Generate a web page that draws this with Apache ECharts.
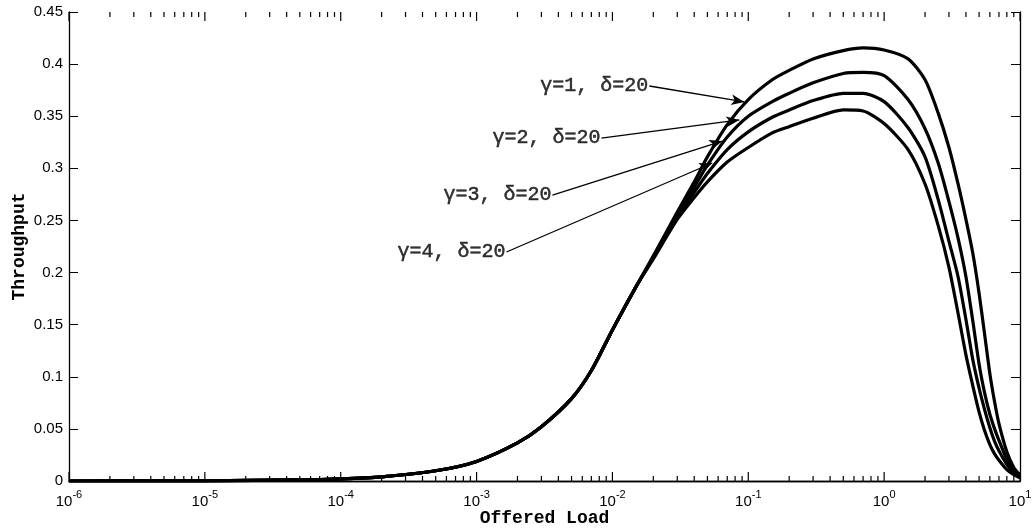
<!DOCTYPE html>
<html lang="en">
<head>
    <meta charset="utf-8">
    <title>Throughput vs Offered Load</title>
    <script src="https://cdn.jsdelivr.net/npm/echarts@6/dist/echarts.min.js"></script>
    <style>
        html, body { margin: 0; padding: 0; background: #fff; }
        #chart { width: 1032px; height: 531px; }
    </style>
</head>
<body>
    <div id="chart"></div>
    <script>
        // offered load (x) and throughput
        var load = [1e-6, 1e-5, 5e-5, 1e-4, 2e-4, 5e-4, 1e-3, 2e-3, 3e-3, 5e-3, 7e-3, 1e-2, 1.5e-2,
            2e-2, 3e-2, 0.04, 0.05, 0.07, 0.1, 0.15, 0.2, 0.3, 0.5, 0.7, 1, 1.5, 2, 2.5, 3, 3.5, 4, 4.5, 5,
            5.5, 6, 6.5, 7, 8, 9, 10];
        // low-load part is shared by all four curves
        var common = [0.00002, 0.0002, 0.001, 0.002, 0.004, 0.0098, 0.0188, 0.0365, 0.052, 0.079, 0.106,
            0.145, 0.187];
        var gamma1 = [0.216, 0.258, 0.287, 0.311, 0.342, 0.366, 0.385, 0.394, 0.405, 0.413, 0.4155, 0.4135,
            0.405, 0.385, 0.353, 0.320, 0.285, 0.251, 0.218, 0.180, 0.140, 0.103, 0.076, 0.055, 0.028, 0.013, 0.006];
        var gamma2 = [0.215, 0.256, 0.282, 0.303, 0.330, 0.350, 0.364, 0.372, 0.382, 0.391, 0.392, 0.389,
            0.366, 0.338, 0.305, 0.268, 0.233, 0.196, 0.153, 0.112, 0.084, 0.064, 0.050, 0.039, 0.021, 0.010, 0.005];
        var gamma3 = [0.214, 0.253, 0.277, 0.295, 0.318, 0.335, 0.349, 0.356, 0.365, 0.372, 0.372, 0.364,
            0.339, 0.311, 0.270, 0.230, 0.196, 0.155, 0.116, 0.089, 0.068, 0.051, 0.038, 0.029, 0.016, 0.008, 0.004];
        var gamma4 = [0.213, 0.251, 0.272, 0.287, 0.306, 0.320, 0.334, 0.340, 0.348, 0.356, 0.355, 0.343,
            0.318, 0.285, 0.245, 0.205, 0.161, 0.121, 0.091, 0.066, 0.048, 0.035, 0.026, 0.020, 0.011, 0.006, 0.003];
        var curves = [gamma1, gamma2, gamma3, gamma4];

        var labels = ['\u03b3=1, \u03b4=20', '\u03b3=2, \u03b4=20', '\u03b3=3, \u03b4=20', '\u03b3=4, \u03b4=20'];
        var labelAt = [[0.0187, 0.379], [0.0083, 0.329], [0.00362, 0.2744], [0.00166, 0.2197]];
        var arrowTip = [[0.0935, 0.3637], [0.0859, 0.3464], [0.0644, 0.3262], [0.0543, 0.3051]];

        var yTicks = [0, 0.05, 0.1, 0.15, 0.2, 0.25, 0.3, 0.35, 0.4, 0.45];

        // minor ticks 2..9 x 10^k like matlab draws them
        var minor = [];
        for (var e = -6; e < 1; e++) {
            for (var k = 2; k < 10; k++) minor.push([k * Math.pow(10, e), 0]);
        }
        var major = [];
        for (var d = -6; d <= 1; d++) major.push([Math.pow(10, d), 0]);

        var tickFont = 'Liberation Sans';
        var monoFont = 'Liberation Mono';

        var series = curves.map(function (tail, n) {
            var vals = common.concat(tail);
            return {
                name: labels[n],
                type: 'line',
                data: load.map(function (x, i) { return [x, vals[i]]; }),
                smooth: 0.25,
                showSymbol: false,
                lineStyle: { color: '#000', width: 3.2, join: 'round' },
                z: 3
            };
        });

        series.push({
            type: 'scatter',
            symbolSize: 0,
            data: labelAt.map(function (p, i) { return { value: p, name: labels[i] }; }),
            label: {
                show: true,
                position: 'left',
                distance: 1,
                formatter: function (p) { return p.name; },
                fontFamily: monoFont,
                fontSize: 20,
                color: '#000',
                textBorderColor: '#000',
                textBorderWidth: 0.5
            },
            markLine: {
                silent: true,
                symbol: ['none', 'arrow'],
                symbolSize: [8, 13],
                label: { show: false },
                lineStyle: { color: '#000', width: 1.3, type: 'solid' },
                data: labelAt.map(function (p, i) {
                    return [{ coord: p }, { coord: arrowTip[i] }];
                })
            },
            z: 4
        });

        // inward ticks on bottom and top edges
        function tickSeries(list, len) {
            return {
                type: 'custom',
                data: list,
                clip: false,
                silent: true,
                renderItem: function (params, api) {
                    var b = api.coord([api.value(0), 0]);
                    var t = api.coord([api.value(0), 0.45]);
                    return {
                        type: 'group',
                        children: [
                            { type: 'line', shape: { x1: b[0], y1: b[1], x2: b[0], y2: b[1] - len }, style: { stroke: '#000', lineWidth: 1.2 } },
                            { type: 'line', shape: { x1: t[0], y1: t[1], x2: t[0], y2: t[1] + len }, style: { stroke: '#000', lineWidth: 1.2 } }
                        ]
                    };
                },
                z: 5
            };
        }
        series.push(tickSeries(minor, 5));
        series.push(tickSeries(major, 9));

        var option = {
            animation: false,
            backgroundColor: '#fff',
            grid: { left: 69, right: 12, top: 12, bottom: 50, outerBoundsMode: 'none' },
            xAxis: [{
                type: 'log',
                logBase: 10,
                min: 1e-6,
                max: 10,
                splitNumber: 7,
                name: 'Offered Load',
                nameLocation: 'middle',
                nameGap: 28,
                nameMoveOverlap: false,
                nameTextStyle: { fontFamily: monoFont, fontWeight: 'bold', fontSize: 18, color: '#000' },
                axisLine: { lineStyle: { color: '#000', width: 1.3 } },
                axisTick: { show: false },
                splitLine: { show: false },
                axisLabel: {
                    margin: 8,
                    color: '#000',
                    formatter: function (v) {
                        return '{b|10}{s|' + Math.round(Math.log10(v)) + '}';
                    },
                    rich: {
                        b: { fontFamily: tickFont, fontSize: 15, color: '#000', verticalAlign: 'bottom', lineHeight: 20 },
                        s: { fontFamily: tickFont, fontSize: 11, color: '#000', verticalAlign: 'top', lineHeight: 20 }
                    }
                }
            }, {
                type: 'log',
                logBase: 10,
                min: 1e-6,
                max: 10,
                splitNumber: 7,
                position: 'top',
                axisLine: { lineStyle: { color: '#000', width: 1.3 } },
                axisTick: { show: false },
                axisLabel: { show: false },
                splitLine: { show: false }
            }],
            yAxis: [{
                type: 'value',
                min: 0,
                max: 0.45,
                interval: 0.05,
                name: 'Throughput',
                nameLocation: 'middle',
                nameGap: 41,
                nameMoveOverlap: false,
                nameTextStyle: { fontFamily: monoFont, fontWeight: 'bold', fontSize: 18, color: '#000' },
                axisLine: { show: true, lineStyle: { color: '#000', width: 1.3 } },
                axisTick: { show: true, inside: true, length: 9, lineStyle: { color: '#000' } },
                splitLine: { show: false },
                axisLabel: {
                    margin: 6,
                    fontFamily: tickFont,
                    fontSize: 15,
                    color: '#000',
                    formatter: function (v) {
                        var i = yTicks.indexOf(+v.toFixed(2));
                        return i < 0 ? '' : String(yTicks[i]);
                    }
                }
            }, {
                type: 'value',
                min: 0,
                max: 0.45,
                interval: 0.05,
                position: 'right',
                axisLine: { show: true, lineStyle: { color: '#000', width: 1.3 } },
                axisTick: { show: true, inside: true, length: 9, lineStyle: { color: '#000' } },
                axisLabel: { show: false },
                splitLine: { show: false }
            }],
            series: series
        };

        var chart = echarts.init(document.getElementById('chart'));
        chart.setOption(option);
    </script>
</body>
</html>
